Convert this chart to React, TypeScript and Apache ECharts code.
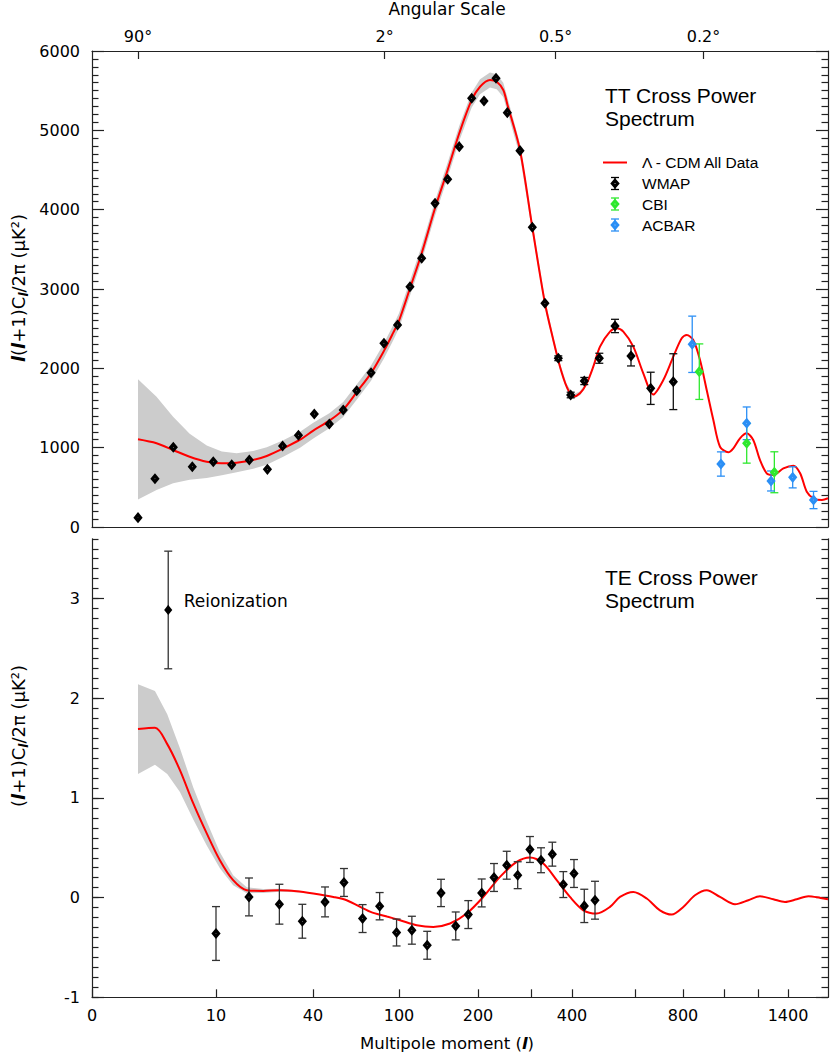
import React, { useEffect, useRef } from 'react';
import * as echarts from 'echarts';

// ---- nonlinear multipole axis definition (l -> axis position) ----
const AXIS_L = [0, 2, 10, 40, 100, 200, 300, 400, 600, 800, 1000, 1200, 1400, 1690];
const AXIS_POS = [0, 46, 124, 221, 307, 386, 439, 480, 543, 591, 632, 666, 696, 736];
const X_TICKS = [0, 10, 40, 100, 200, 300, 400, 600, 800, 1000, 1200, 1400];
const X_LABELS = [0, 10, 40, 100, 200, 400, 800, 1400];
const ANG_L = [2, 90, 360, 900];
const ANG_LABELS = ['90°', '2°', '0.5°', '0.2°'];
const TE_Y_TICKS = [-1, 0, 1, 2, 3];

// ---- TT model (Lambda-CDM) and cosmic-variance band half width ----
const TT_MODEL_L = [2, 3.9, 5.6, 7.3, 9.05, 11.8, 16.4, 21.5, 25.7, 30.8, 36, 40.2, 51.4, 61.1, 70.5, 80.5, 89.5, 96, 100, 113.9, 128.7, 145.6, 161.6, 176.3, 192, 203.8, 222.6, 235.3, 247.7, 255.3, 279.2, 303.2, 334, 354.4, 370.7, 387, 404, 425.4, 446.7, 467.6, 488.9, 520.6, 541.9, 562.9, 594.6, 634.6, 676, 718, 759.6, 794.6, 818, 850, 883, 915.6, 948, 980.5, 1025, 1055, 1094, 1133.5, 1172, 1213, 1258, 1302, 1369, 1439, 1488, 1536, 1585, 1646, 1690];
const TT_MODEL = [1105, 1055, 971, 886, 823, 803, 811, 845, 895, 990, 1100, 1215, 1340, 1480, 1700, 1940, 2220, 2450, 2600, 3009, 3450, 4017, 4500, 4963, 5383, 5550, 5635, 5613, 5509, 5330, 4752, 3778, 2820, 2357, 2021, 1769, 1643, 1685, 1811, 2021, 2273, 2462, 2505, 2462, 2273, 1937, 1670, 1853, 2147, 2379, 2420, 2357, 2105, 1727, 1349, 1012, 942, 992, 1118, 1181, 1097, 845, 677, 656, 740, 773, 677, 445, 362, 340, 362];
const TT_BAND = [757, 588, 420, 290, 205, 150, 120, 112, 110, 105, 100, 100, 95, 95, 95, 95, 95, 95, 95, 95, 95, 95, 95, 95, 95, 95, 95, 95, 90, 90, 80, 70, 55, 45, 40, 35, 30, 25, 20, 15, 10, 0, 0, 0, 0, 0, 0, 0, 0, 0, 0, 0, 0, 0, 0, 0, 0, 0, 0, 0, 0, 0, 0, 0, 0, 0, 0, 0, 0, 0, 0];

// ---- TT measurements ----
const TT_WMAP_L = [2, 3.74, 5.62, 7.57, 9.72, 14.86, 20.3, 25.9, 30.6, 35.5, 40.9, 51.4, 61.1, 70.5, 80.5, 89.5, 99, 113.9, 128.7, 145.6, 161.6, 176.3, 192, 211.3, 234, 255.3, 279.2, 303.2, 334, 366.6, 396.8, 439, 486.7, 536.5, 587.3, 665.4, 759.6];
const TT_WMAP = [118, 609, 1005, 760, 823, 785, 845, 727, 1021, 1156, 1424, 1298, 1475, 1718, 1945, 2316, 2546, 3029, 3387, 4080, 4383, 4794, 5404, 5370, 5656, 5223, 4744, 3778, 2820, 2127, 1664, 1840, 2127, 2534, 2156, 1748, 1832];
const TT_WMAP_ERR = [0, 0, 0, 0, 0, 0, 0, 0, 0, 0, 0, 0, 0, 0, 0, 0, 0, 0, 0, 0, 0, 0, 0, 0, 0, 0, 0, 0, 0, 30, 35, 45, 63, 84, 126, 203, 352];
const CBI_L = [879.5, 1133.5, 1309];
const CBI = [1958, 1055, 690];
const CBI_ERR = [350, 250, 258];
const ACBAR_L = [845, 985, 1133.5, 1287, 1434, 1585];
const ACBAR = [2303, 794, 1307, 580, 626, 340];
const ACBAR_ERR = [355, 153, 206, 126, 133, 109];

// ---- TE model and band ----
const TE_MODEL_L = [2, 3.74, 5.0, 6.3, 7.67, 9.05, 11.2, 15.3, 19.5, 24.6, 29.7, 34.9, 40.2, 54.2, 63.5, 80.2, 91.6, 101.3, 122.4, 143.4, 164.6, 185.7, 210, 241.5, 273, 298, 330, 362.7, 395, 436, 478.4, 520.6, 552.4, 594.6, 648.8, 704, 752.9, 801.5, 858.5, 915.6, 980.5, 1064.7, 1143, 1213, 1302, 1380, 1463.5, 1548, 1635, 1690];
const TE_MODEL = [1.691, 1.704, 1.54, 1.279, 0.945, 0.644, 0.375, 0.175, 0.074, 0.067, 0.074, 0.064, 0.041, 0.007, -0.026, -0.143, -0.19, -0.227, -0.277, -0.294, -0.26, -0.16, 0.007, 0.208, 0.358, 0.403, 0.342, 0.175, 0.007, -0.127, -0.16, -0.093, 0.007, 0.057, -0.009, -0.127, -0.17, -0.093, 0.024, 0.074, 0.007, -0.066, -0.026, 0.014, -0.016, -0.043, -0.016, 0.014, -0.003, -0.016];
const TE_BAND = [0.45, 0.37, 0.3, 0.22, 0.16, 0.12, 0.08, 0.05, 0.03, 0.02, 0.015, 0.01, 0, 0, 0, 0, 0, 0, 0, 0, 0, 0, 0, 0, 0, 0, 0, 0, 0, 0, 0, 0, 0, 0, 0, 0, 0, 0, 0, 0, 0, 0, 0, 0, 0, 0, 0, 0, 0, 0];

// ---- TE measurements ----
const TE_WMAP_L = [10, 20.2, 29.6, 36.7, 48.4, 61.6, 74.6, 86.5, 98.3, 116.3, 135.7, 153.2, 171.8, 187.7, 207, 230.2, 254.2, 274.9, 298, 324.4, 352, 378.8, 406.3, 439, 473];
const TE_WMAP = [-0.36, 0.007, -0.066, -0.237, -0.043, 0.152, -0.21, -0.086, -0.35, -0.327, -0.478, 0.047, -0.284, -0.17, 0.047, 0.202, 0.325, 0.225, 0.483, 0.375, 0.436, 0.131, 0.242, -0.083, -0.026];
const TE_WMAP_ERR = [0.27, 0.19, 0.2, 0.17, 0.15, 0.14, 0.14, 0.137, 0.135, 0.14, 0.14, 0.137, 0.14, 0.14, 0.14, 0.14, 0.14, 0.135, 0.13, 0.125, 0.12, 0.13, 0.14, 0.167, 0.19];
const TE_REION_L = [5.1];
const TE_REION = [2.886];
const TE_REION_ERR = [0.59];

const FONT = "'DejaVu Sans', sans-serif";
const SANS = "'Liberation Sans', Arial, sans-serif";
const AX = '#222';
const RED = '#ff0000';
const GREEN = '#2ee82e';
const BLUE = '#2b8ff5';

function toPos(l: number): number {
  for (let i = 1; i < AXIS_L.length; i++) {
    if (l <= AXIS_L[i]) {
      const t = (l - AXIS_L[i - 1]) / (AXIS_L[i] - AXIS_L[i - 1]);
      return AXIS_POS[i - 1] + t * (AXIS_POS[i] - AXIS_POS[i - 1]);
    }
  }
  return AXIS_POS[AXIS_POS.length - 1];
}

const X_MAX = toPos(AXIS_L[AXIS_L.length - 1]);

function labelFor(values: number[], labels: string[]) {
  const pos = values.map(toPos);
  return (v: number) => {
    const i = pos.findIndex((p) => Math.abs(p - v) < 0.5);
    return i >= 0 ? labels[i] : '';
  };
}

function bandRender(ls: number[], mid: number[], half: number[], fill: string) {
  return (_p: any, api: any) => {
    const pts: number[][] = [];
    for (let i = 0; i < ls.length; i++) pts.push(api.coord([toPos(ls[i]), mid[i] + half[i]]));
    for (let i = ls.length - 1; i >= 0; i--) pts.push(api.coord([toPos(ls[i]), mid[i] - half[i]]));
    return { type: 'polygon', shape: { points: pts }, style: { fill } };
  };
}

function errRender(color: string, cap: number) {
  return (_p: any, api: any) => {
    const x = api.value(0);
    const top = api.coord([x, api.value(3)]);
    const bot = api.coord([x, api.value(2)]);
    const style = { stroke: color, lineWidth: 1.3 };
    return {
      type: 'group',
      children: [
        { type: 'line', shape: { x1: top[0], y1: top[1], x2: bot[0], y2: bot[1] }, style },
        { type: 'line', shape: { x1: top[0] - cap, y1: top[1], x2: top[0] + cap, y2: top[1] }, style },
        { type: 'line', shape: { x1: bot[0] - cap, y1: bot[1], x2: bot[0] + cap, y2: bot[1] }, style },
      ],
    };
  };
}

function errData(ls: number[], vs: number[], es: number[]) {
  return ls
    .map((l, i) => [toPos(l), vs[i], vs[i] - es[i], vs[i] + es[i]])
    .filter((_d, i) => es[i] > 0);
}

function pts(ls: number[], vs: number[]) {
  return ls.map((l, i) => [toPos(l), vs[i]]);
}

function diamond(cx: number, cy: number, color: string, fill: string) {
  return {
    type: 'polygon',
    shape: { points: [[cx, cy - 3], [cx + 2.6, cy], [cx, cy + 3], [cx - 2.6, cy]] },
    style: { fill, stroke: color, lineWidth: 3.2 },
  };
}

function errIcon(cx: number, cy: number, color: string, fill: string) {
  const st = { stroke: color, lineWidth: 1.3 };
  return {
    type: 'group',
    children: [
      { type: 'line', shape: { x1: cx, y1: cy - 6, x2: cx, y2: cy + 6 }, style: st },
      { type: 'line', shape: { x1: cx - 4, y1: cy - 6, x2: cx + 4, y2: cy - 6 }, style: st },
      { type: 'line', shape: { x1: cx - 4, y1: cy + 6, x2: cx + 4, y2: cy + 6 }, style: st },
      diamond(cx, cy, color, fill),
    ],
  };
}

const tickLine = { color: AX, width: 1.2 };
const axisLine = { show: true, onZero: false, lineStyle: tickLine };

export default function App() {
  const ref = useRef<HTMLDivElement>(null);
  useEffect(() => {
    if (!ref.current) return;
    const chart = echarts.init(ref.current, undefined, { renderer: 'svg' });
    const diamondStyle = (color: string, fill: string) => ({
      symbol: 'diamond',
      symbolSize: [5, 6],
      itemStyle: { color: fill, borderColor: color, borderWidth: 3.3, opacity: 1 },
    });
    const num = (v: number) => String(v);
    const title = (text: string, x: number, y: number) => ({
      type: 'text', x, y,
      style: { text, fontSize: 21, lineHeight: 21, fontFamily: SANS, fill: '#000', verticalAlign: 'middle' },
    });
    const option: any = {
      animation: false,
      backgroundColor: '#ffffff',
      grid: [
        { left: 92, top: 51, width: 736, height: 476 },
        { left: 92, top: 538.8, width: 736, height: 458.5 },
      ],
      xAxis: [
        {
          gridIndex: 0, type: 'value', min: 0, max: X_MAX, position: 'bottom',
          axisLine, axisTick: { show: false },
          axisLabel: { show: false }, splitLine: { show: false },
        },
        {
          gridIndex: 0, type: 'value', min: 0, max: X_MAX, position: 'top',
          axisLine,
          axisTick: { show: true, inside: true, length: 8, customValues: ANG_L.map(toPos), lineStyle: tickLine },
          axisLabel: {
            show: true, customValues: ANG_L.map(toPos), formatter: labelFor(ANG_L, ANG_LABELS),
            margin: 7, fontSize: 16, fontFamily: FONT, color: '#000',
          },
          splitLine: { show: false },
        },
        {
          gridIndex: 1, type: 'value', min: 0, max: X_MAX, position: 'bottom',
          axisLine,
          axisTick: { show: true, inside: true, length: 8, customValues: X_TICKS.map(toPos), lineStyle: tickLine },
          axisLabel: {
            show: true, customValues: X_LABELS.map(toPos), formatter: labelFor(X_LABELS, X_LABELS.map(String)),
            margin: 10, fontSize: 16, fontFamily: FONT, color: '#000',
          },
          splitLine: { show: false },
        },
      ],
      yAxis: [
        {
          gridIndex: 0, type: 'value', min: 0, max: 6000, interval: 1000, position: 'left',
          axisLine,
          axisTick: { show: true, inside: true, length: 12, lineStyle: tickLine },
          minorTick: { show: true, splitNumber: 10, length: 6.5, lineStyle: tickLine },
          axisLabel: { show: true, margin: 12, fontSize: 16, fontFamily: FONT, color: '#000', formatter: num },
          splitLine: { show: false }, minorSplitLine: { show: false },
        },
        {
          gridIndex: 0, type: 'value', min: 0, max: 6000, interval: 1000, position: 'right',
          axisLine,
          axisTick: { show: true, inside: true, length: 12, lineStyle: tickLine },
          minorTick: { show: true, splitNumber: 10, length: 6.5, lineStyle: tickLine },
          axisLabel: { show: false }, splitLine: { show: false },
        },
        {
          gridIndex: 1, type: 'value', min: -1, max: 3.6, interval: 0.1, position: 'left',
          axisLine,
          axisTick: { show: true, inside: true, length: 6.5, lineStyle: tickLine },
          axisLabel: { show: false }, splitLine: { show: false },
        },
        {
          gridIndex: 1, type: 'value', min: -1, max: 3.6, position: 'left',
          axisLine: { show: false, onZero: false },
          axisTick: { show: true, inside: true, length: 12, customValues: TE_Y_TICKS, lineStyle: tickLine },
          axisLabel: { show: true, customValues: TE_Y_TICKS, margin: 12, fontSize: 16, fontFamily: FONT, color: '#000', formatter: num },
          splitLine: { show: false },
        },
        {
          gridIndex: 1, type: 'value', min: -1, max: 3.6, interval: 0.1, position: 'right',
          axisLine,
          axisTick: { show: true, inside: true, length: 6.5, lineStyle: tickLine },
          axisLabel: { show: false }, splitLine: { show: false },
        },
        {
          gridIndex: 1, type: 'value', min: -1, max: 3.6, position: 'right',
          axisLine: { show: false, onZero: false },
          axisTick: { show: true, inside: true, length: 12, customValues: TE_Y_TICKS, lineStyle: tickLine },
          axisLabel: { show: false }, splitLine: { show: false },
        },
      ],
      series: [
        {
          type: 'custom', name: 'TT band', xAxisIndex: 0, yAxisIndex: 0, silent: true, z: 1,
          data: [[0, 0]], renderItem: bandRender(TT_MODEL_L, TT_MODEL, TT_BAND, '#cccccc'),
        },
        {
          type: 'line', name: 'Λ - CDM All Data', xAxisIndex: 0, yAxisIndex: 0, z: 3,
          data: pts(TT_MODEL_L, TT_MODEL), showSymbol: false, smooth: 0.3,
          lineStyle: { color: RED, width: 2 },
        },
        {
          type: 'custom', name: 'WMAP err', xAxisIndex: 0, yAxisIndex: 0, z: 4,
          encode: { x: 0, y: [1, 2, 3] }, data: errData(TT_WMAP_L, TT_WMAP, TT_WMAP_ERR),
          renderItem: errRender('#111', 4),
        },
        {
          type: 'custom', name: 'CBI err', xAxisIndex: 0, yAxisIndex: 0, z: 4,
          encode: { x: 0, y: [1, 2, 3] }, data: errData(CBI_L, CBI, CBI_ERR),
          renderItem: errRender(GREEN, 4),
        },
        {
          type: 'custom', name: 'ACBAR err', xAxisIndex: 0, yAxisIndex: 0, z: 4,
          encode: { x: 0, y: [1, 2, 3] }, data: errData(ACBAR_L, ACBAR, ACBAR_ERR),
          renderItem: errRender(BLUE, 4),
        },
        {
          type: 'scatter', name: 'WMAP', xAxisIndex: 0, yAxisIndex: 0, z: 5,
          data: pts(TT_WMAP_L, TT_WMAP), ...diamondStyle('#000', '#ffffff'),
        },
        {
          type: 'scatter', name: 'CBI', xAxisIndex: 0, yAxisIndex: 0, z: 5,
          data: pts(CBI_L, CBI), ...diamondStyle(GREEN, '#d8ffd8'),
        },
        {
          type: 'scatter', name: 'ACBAR', xAxisIndex: 0, yAxisIndex: 0, z: 5,
          data: pts(ACBAR_L, ACBAR), ...diamondStyle(BLUE, '#d6e9ff'),
        },
        {
          type: 'custom', name: 'TE band', xAxisIndex: 2, yAxisIndex: 2, silent: true, z: 1,
          data: [[0, 0]], renderItem: bandRender(TE_MODEL_L, TE_MODEL, TE_BAND, '#cccccc'),
        },
        {
          type: 'line', name: 'TE model', xAxisIndex: 2, yAxisIndex: 2, z: 3,
          data: pts(TE_MODEL_L, TE_MODEL), showSymbol: false, smooth: 0.3,
          lineStyle: { color: RED, width: 2 },
        },
        {
          type: 'custom', name: 'TE err', xAxisIndex: 2, yAxisIndex: 2, z: 4,
          encode: { x: 0, y: [1, 2, 3] },
          data: errData(TE_WMAP_L, TE_WMAP, TE_WMAP_ERR).concat(errData(TE_REION_L, TE_REION, TE_REION_ERR)),
          renderItem: errRender('#333', 4),
        },
        {
          type: 'scatter', name: 'TE WMAP', xAxisIndex: 2, yAxisIndex: 2, z: 5,
          data: pts(TE_WMAP_L, TE_WMAP), ...diamondStyle('#000', '#ffffff'),
        },
        {
          type: 'scatter', name: 'Reionization', xAxisIndex: 2, yAxisIndex: 2, z: 5,
          data: pts(TE_REION_L, TE_REION), ...diamondStyle('#000', '#ffffff'),
          symbolSize: [4, 5],
          label: {
            show: true, position: 'right', distance: 12, offset: [0, -9],
            formatter: 'Reionization', fontSize: 17, fontFamily: FONT, color: '#000',
          },
        },
      ],
      graphic: [
        {
          type: 'text', x: 447, y: 9,
          style: { text: 'Angular Scale', fontSize: 17, fontFamily: FONT, fill: '#000', align: 'center', verticalAlign: 'middle' },
        },
        title('TT Cross Power', 605, 95),
        title('Spectrum', 605, 118),
        title('TE Cross Power', 605, 577.5),
        title('Spectrum', 605, 600.5),
        { type: 'line', shape: { x1: 603, y1: 162.5, x2: 627, y2: 162.5 }, style: { stroke: RED, lineWidth: 2 } },
        {
          type: 'text', x: 642, y: 162.5,
          style: { text: 'Λ - CDM All Data', fontSize: 15.5, fontFamily: SANS, fill: '#000', verticalAlign: 'middle' },
        },
        errIcon(615, 183.5, '#000', '#ffffff'),
        { type: 'text', x: 642, y: 183.5, style: { text: 'WMAP', fontSize: 15.5, fontFamily: SANS, fill: '#000', verticalAlign: 'middle' } },
        errIcon(615, 204, GREEN, '#d8ffd8'),
        { type: 'text', x: 642, y: 204, style: { text: 'CBI', fontSize: 15.5, fontFamily: SANS, fill: '#000', verticalAlign: 'middle' } },
        errIcon(615, 225, BLUE, '#d6e9ff'),
        { type: 'text', x: 642, y: 225, style: { text: 'ACBAR', fontSize: 15.5, fontFamily: SANS, fill: '#000', verticalAlign: 'middle' } },
        {
          type: 'text', x: 18, y: 288, rotation: Math.PI / 2,
          style: {
            text: '{i|l}({i|l}+1)C{s|l}/2π (μK²)',
            fontSize: 18, fontFamily: FONT, fill: '#000', align: 'center', verticalAlign: 'middle',
            rich: {
              i: { fontStyle: 'italic', fontWeight: 'bold', fontSize: 18, fontFamily: FONT },
              s: { fontStyle: 'italic', fontWeight: 'bold', fontSize: 12, fontFamily: FONT, verticalAlign: 'bottom', lineHeight: 24 },
            },
          },
        },
        {
          type: 'text', x: 18, y: 736, rotation: Math.PI / 2,
          style: {
            text: '({i|l}+1)C{s|l}/2π (μK²)',
            fontSize: 18, fontFamily: FONT, fill: '#000', align: 'center', verticalAlign: 'middle',
            rich: {
              i: { fontStyle: 'italic', fontWeight: 'bold', fontSize: 18, fontFamily: FONT },
              s: { fontStyle: 'italic', fontWeight: 'bold', fontSize: 12, fontFamily: FONT, verticalAlign: 'bottom', lineHeight: 24 },
            },
          },
        },
        {
          type: 'text', x: 447, y: 1043,
          style: {
            text: 'Multipole moment ({i|l})',
            fontSize: 16.5, fontFamily: FONT, fill: '#000', align: 'center', verticalAlign: 'middle',
            rich: { i: { fontStyle: 'italic', fontWeight: 'bold', fontSize: 16.5, fontFamily: FONT } },
          },
        },
      ],
    };
    chart.setOption(option);
    return () => chart.dispose();
  }, []);
  return <div ref={ref} style={{ position: 'absolute', left: 0, top: 0, width: 830, height: 1056 }} />;
}
